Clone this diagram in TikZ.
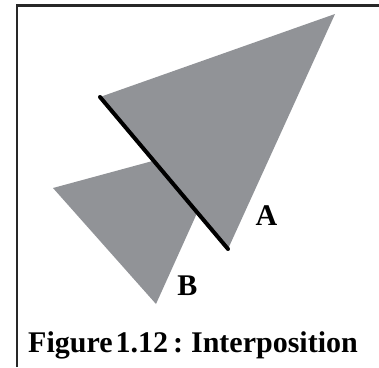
\documentclass[tikz,border=0pt]{standalone}
\usepackage{fontspec}
\setmainfont{Liberation Serif}
\definecolor{triGray}{RGB}{145,147,151}
\definecolor{frameGray}{RGB}{40,40,40}
\tikzset{
  tri/.style={fill=triGray, draw=none},
  edgeline/.style={line width=4pt, black, line cap=round},
  lbl/.style={font=\bfseries\fontsize{30}{36}\selectfont, inner sep=0pt, anchor=base}
}
\begin{document}
\begin{tikzpicture}[x=1pt, y=-1pt]
    \useasboundingbox (0,0) rectangle (379,367);
    % Marco
    \draw[frameGray, line width=2.2pt] (17,367) -- (17,5.5) -- (379,5.5);

    % Vertices de los triangulos
    \coordinate (Atip) at (335,14);
    \coordinate (Aleft) at (100,97);
    \coordinate (Abot) at (228,249);
    \coordinate (Bleft) at (53,188);
    \coordinate (Bbot) at (156,304);
    \coordinate (Bhid) at (230,140);

    % Triangulo B (detras) y triangulo A (delante)
    \fill[tri] (Bleft) -- (Bhid) -- (Bbot) -- cycle;
    \fill[tri] (Aleft) -- (Atip) -- (Abot) -- cycle;

    % Borde de A que tapa a B
    \draw[edgeline] (Aleft) -- (Abot);

    % Etiquetas
    \node[lbl] (labA) at (266.5,225) {A};
    \node[lbl] (labB) at (187.5,295) {B};
    \node[lbl] (caption) at (193,352) {Figure\kern3pt 1.12\kern5pt:\kern8pt Interposition};
\end{tikzpicture}
\end{document}
